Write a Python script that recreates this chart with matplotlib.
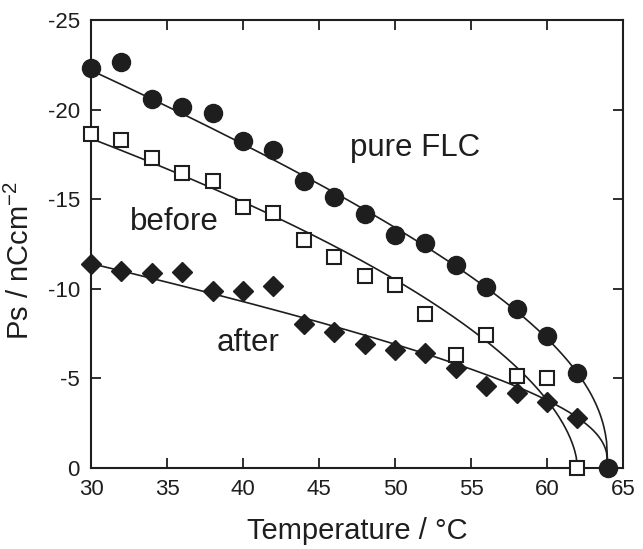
import numpy as np
import matplotlib
matplotlib.use('Agg')
import matplotlib.pyplot as plt

plt.rcParams['font.family'] = ['Liberation Sans', 'DejaVu Sans']
plt.rcParams['axes.unicode_minus'] = False
plt.rcParams['mathtext.fontset'] = 'custom'
plt.rcParams['mathtext.rm'] = 'Liberation Sans'
plt.rcParams['mathtext.default'] = 'regular'

# spontaneous polarization vs temperature (nC/cm^2)
temp_pure = [30, 32, 34, 36, 38, 40, 42, 44, 46, 48, 50, 52, 54, 56, 58, 60, 62, 64]
ps_pure = [-22.3, -22.65, -20.6, -20.15, -19.8, -18.25, -17.75, -16.0, -15.1,
           -14.17, -13.0, -12.57, -11.33, -10.08, -8.87, -7.37, -5.28, 0.0]

temp_before = [30, 32, 34, 36, 38, 40, 42, 44, 46, 48, 50, 52, 54, 56, 58, 60, 62]
ps_before = [-18.64, -18.3, -17.3, -16.46, -16.0, -14.56, -14.23, -12.7, -11.8,
             -10.71, -10.23, -8.6, -6.3, -7.42, -5.14, -5.03, 0.0]

temp_after = [30, 32, 34, 36, 38, 40, 42, 44, 46, 48, 50, 52, 54, 56, 58, 60, 62]
ps_after = [-11.38, -11.0, -10.87, -10.96, -9.88, -9.88, -10.16, -8.04, -7.61,
            -6.92, -6.58, -6.44, -5.56, -4.58, -4.17, -3.7, -2.81]

# fit curves: Ps = -(a (Tc - T)^beta + b (Tc - T))
# columns: Tc, a, beta, b
fit_pure = (64.0, 3.71, 0.38, 0.236)
fit_before = (62.0, 2.55, 0.57, 0.0)
fit_after = (64.0, 2.00, 0.35, 0.1335)

INK = '#1e1e1e'


def fit_curve(t_start, params, n=400):
    tc, a, beta, b = params
    tt = np.linspace(t_start, tc, n)
    dt = tc - tt
    return tt, -(a * dt ** beta + b * dt)


fig = plt.figure(figsize=(6.43, 5.49), dpi=100)
ax = fig.add_axes([0.1415, 0.1475, 0.8275, 0.8161])

for t, params in ((temp_pure, fit_pure), (temp_before, fit_before),
                  (temp_after, fit_after)):
    tt, yy = fit_curve(t[0], params)
    ax.plot(tt, yy, color=INK, lw=1.2, zorder=2, clip_on=False)

ax.plot(temp_after, ps_after, ls='none', marker='D', ms=10.5, mfc=INK, mec=INK,
        zorder=3, clip_on=False)
ax.plot(temp_before, ps_before, ls='none', marker='s', ms=10, mfc='white', mec=INK,
        mew=1.5, zorder=4, clip_on=False)
ax.plot(temp_pure, ps_pure, ls='none', marker='o', ms=13, mfc=INK, mec=INK,
        zorder=5, clip_on=False)

ax.set_xlim(30, 65)
ax.set_ylim(0, -25)
ax.set_xticks(np.arange(30, 66, 5))
ax.set_yticks(np.arange(0, -26, -5))

for side in ax.spines.values():
    side.set_linewidth(1.5)
    side.set_color(INK)
ax.tick_params(direction='in', length=7, width=1.3, top=True, right=True,
               labelsize=16, colors=INK, pad=8)

ax.set_xlabel('Temperature / °C', fontsize=21, color=INK, labelpad=12)
ax.set_ylabel('Ps / nCcm$^{-2}$', fontsize=21, color=INK, va='center')
ax.yaxis.set_label_coords(-0.133, 0.462)

ax.text(51.3, -17.85, 'pure FLC', fontsize=22.5, color=INK, ha='center', va='center')
ax.text(35.5, -13.7, 'before', fontsize=22.5, color=INK, ha='center', va='center')
ax.text(40.3, -7.0, 'after', fontsize=22.5, color=INK, ha='center', va='center')

fig.savefig('out.png', dpi=100)
